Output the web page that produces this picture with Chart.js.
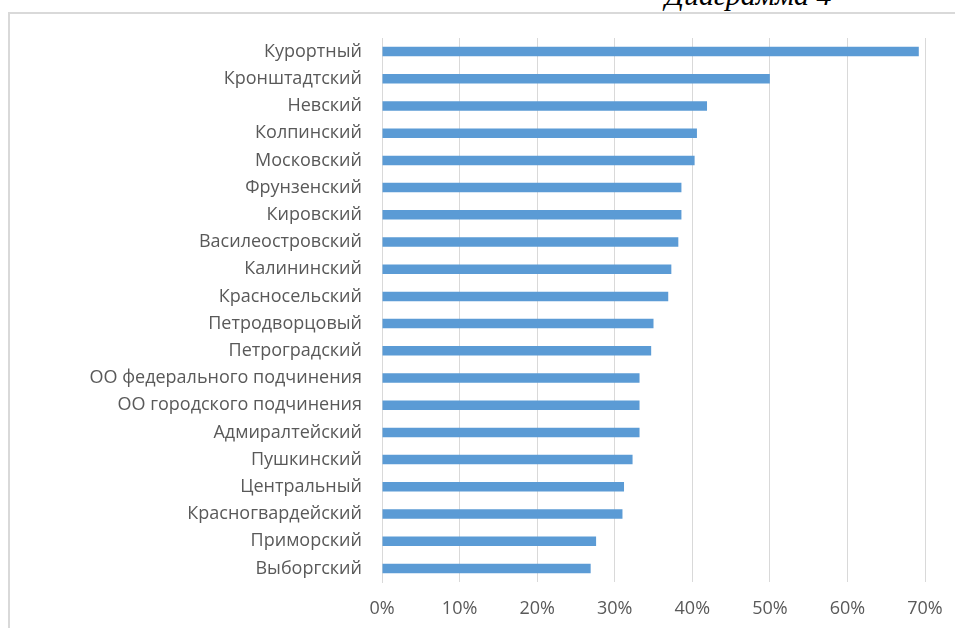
<!DOCTYPE html>
<html>
<head>
<meta charset="utf-8">
<script src="https://cdn.jsdelivr.net/npm/chart.js@4"></script>
<style>
  html, body { margin: 0; padding: 0; background: #fff; overflow: hidden; }
  #frame { position: absolute; left: 8px; top: 12px; width: 980px; height: 660px; border: 2px solid #d9d9d9; }
  #title { position: absolute; left: 665px; top: -20px; font: italic 30px/30px "Liberation Serif", "Times New Roman", serif; color: #000; white-space: nowrap; }
  #myChart { position: absolute; left: 0; top: 0; }
</style>
</head>
<body>
<div id="title">Диаграмма 4</div>
<div id="frame"></div>
<canvas id="myChart" width="955" height="628"></canvas>
<script>
var districts = [
  "Курортный",
  "Кронштадтский",
  "Невский",
  "Колпинский",
  "Московский",
  "Фрунзенский",
  "Кировский",
  "Василеостровский",
  "Калининский",
  "Красносельский",
  "Петродворцовый",
  "Петроградский",
  "ОО федерального подчинения",
  "ОО городского подчинения",
  "Адмиралтейский",
  "Пушкинский",
  "Центральный",
  "Красногвардейский",
  "Приморский",
  "Выборгский"
];
// доля, %
var shares = [69.2, 50.0, 41.9, 40.6, 40.3, 38.6, 38.6, 38.2, 37.3, 36.9,
  35.0, 34.7, 33.2, 33.2, 33.2, 32.3, 31.2, 31.0, 27.6, 26.9];
var xTicks = [0, 10, 20, 30, 40, 50, 60, 70];

var labelFont = { family: "'Open Sans', sans-serif", size: 18 };
var ctx = document.getElementById("myChart").getContext("2d");
var chart = new Chart(ctx, {
  type: "bar",
  data: {
    labels: districts,
    datasets: [
      {
        data: shares,
        backgroundColor: "#5b9bd5",
        borderWidth: 0,
        categoryPercentage: 0.7,
        barPercentage: 0.5
      }
    ]
  },
  options: {
    indexAxis: "y",
    responsive: false,
    animation: false,
    layout: { padding: { top: 38, right: 30, bottom: 0, left: 0 } },
    plugins: { legend: { display: false }, tooltip: { enabled: false } },
    scales: {
      x: {
        min: xTicks[0],
        max: xTicks[xTicks.length - 1],
        afterBuildTicks: function (scale) {
          scale.ticks = xTicks.map(function (v) { return { value: v }; });
        },
        afterFit: function (scale) {
          scale.height = 46;
          scale.paddingRight = 0;
          scale.paddingLeft = 0;
        },
        grid: { color: "#d9d9d9", lineWidth: 1, drawTicks: false },
        border: { display: false },
        ticks: {
          color: "#595959",
          font: labelFont,
          padding: 16,
          callback: function (v) { return v + "%"; }
        }
      },
      y: {
        grid: { display: false, drawTicks: false },
        border: { display: true, color: "#d9d9d9", width: 1 },
        afterFit: function (scale) { scale.width = 382; },
        ticks: { color: "#595959", font: labelFont, padding: 20, autoSkip: false }
      }
    }
  }
});
</script>
</body>
</html>
